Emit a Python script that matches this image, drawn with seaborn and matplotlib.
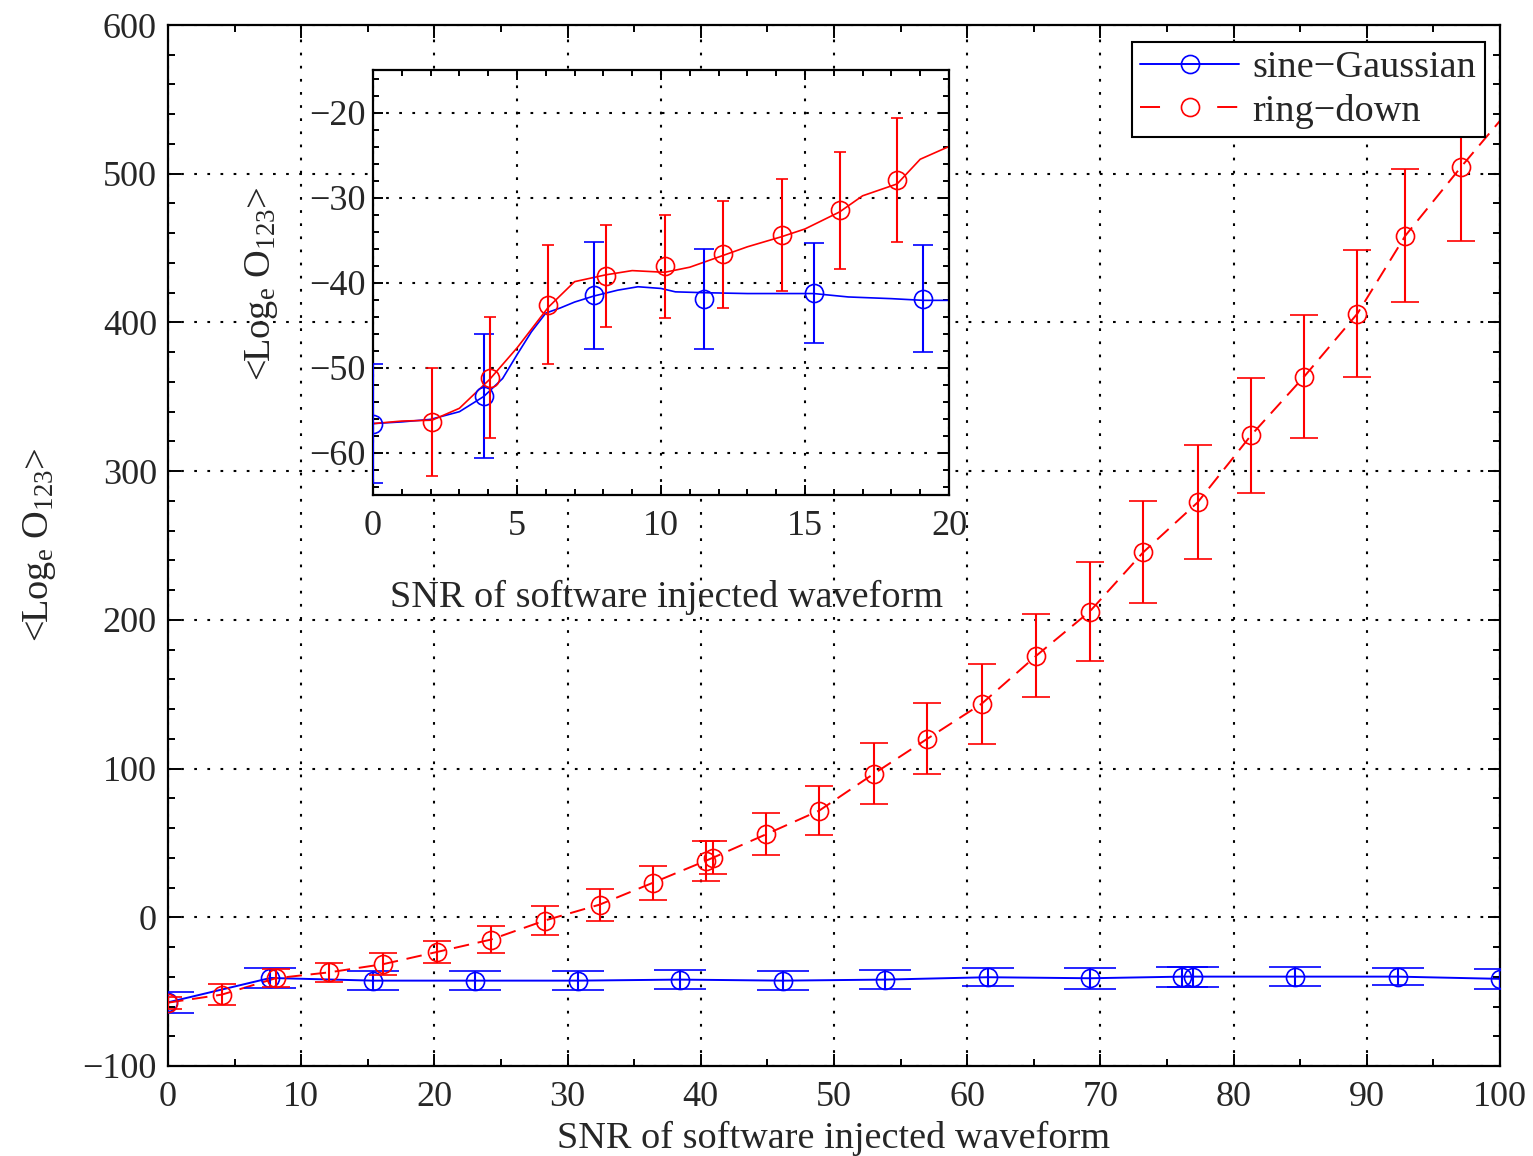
import matplotlib
matplotlib.use("Agg")
import matplotlib.pyplot as plt
from matplotlib.lines import Line2D
from matplotlib.ticker import MultipleLocator
import pandas as pd
import seaborn as sns

# ---- full SNR range: sine-Gaussian injections ----
sg_snr = [0, 7.69, 15.38, 23.08, 30.77, 38.46, 46.15, 53.85, 61.54, 69.23,
          76.15, 76.92, 84.62, 92.31, 100]
sg_mean = [-57.2, -40.8, -42.6, -42.6, -42.6, -41.9, -42.6, -41.9, -40.3, -41.0,
           -39.9, -39.9, -39.9, -39.9, -41.4]
sg_err = [6.9, 6.8, 6.2, 6.2, 6.2, 6.2, 6.5, 6.2, 6.2, 6.9,
          6.7, 6.7, 6.2, 5.6, 6.7]

# ---- full SNR range: ring-down injections ----
rd_snr = [0, 4.04, 8.08, 12.12, 16.16, 20.2, 24.24, 28.28, 32.4, 36.4,
          40.4, 40.9, 44.9, 48.9, 53.0, 57.0, 61.1, 65.2, 69.2, 73.2,
          77.3, 81.3, 85.3, 89.3, 92.9, 97.1]
rd_mean = [-57.4, -52.0, -41.0, -37.0, -31.5, -23.3, -15.0, -2.2, 8.5, 23.2,
           38.1, 40.0, 55.8, 71.8, 96.6, 120.0, 143.7, 176.0, 205.6, 245.3,
           279.0, 324.0, 363.6, 406.0, 458.4, 504.8]
rd_err = [4.0, 6.9, 6.2, 6.2, 7.3, 7.3, 9.0, 9.5, 10.8, 11.5,
          13.4, 11.2, 14.1, 16.8, 20.5, 23.9, 26.9, 28.2, 33.3, 34.3,
          38.3, 38.7, 41.4, 43.0, 44.9, 49.8]
# dashed ring-down trace continues to the edge of the axis
rd_line_snr = rd_snr + [100]
rd_line = rd_mean + [535.6]

# ---- low-SNR detail: sine-Gaussian ----
sg_in_snr = [0, 3.85, 7.66, 11.48, 15.3, 19.1]
sg_in_mean = [-56.6, -53.4, -41.5, -41.9, -41.2, -41.9]
sg_in_err = [7.0, 7.3, 6.3, 5.9, 5.9, 6.3]
sg_curve_snr = [0, 1, 2, 3, 3.85, 4.5, 5, 5.5, 6, 6.5, 7, 7.66, 8.5, 9.2,
                10, 10.5, 11.5, 13, 15.3, 16.5, 18, 19.1, 20]
sg_curve = [-56.6, -56.4, -56.1, -55.2, -53.4, -51.3, -48.5, -45.8, -43.6,
            -43.0, -42.3, -41.6, -40.9, -40.5, -40.7, -41.1, -41.2, -41.3,
            -41.3, -41.7, -41.9, -42.1, -42.1]

# ---- low-SNR detail: ring-down ----
rd_in_snr = [2.05, 4.05, 6.09, 8.08, 10.13, 12.17, 14.2, 16.2, 18.2]
rd_in_mean = [-56.4, -51.2, -42.6, -39.2, -38.1, -36.7, -34.4, -31.5, -27.9]
rd_in_err = [6.4, 7.1, 7.0, 6.0, 6.1, 6.3, 6.6, 6.9, 7.3]
rd_curve_snr = [0, 1, 2.05, 3, 4.05, 5, 6.09, 7, 8.08, 9, 10.13, 11, 12.17,
                13, 14.2, 15, 16.2, 17, 18.2, 19, 20]
rd_curve = [-56.6, -56.3, -56.2, -54.8, -51.4, -47.7, -42.9, -39.9, -39.1,
            -38.6, -38.8, -38.2, -36.8, -35.8, -34.6, -33.7, -31.7, -29.8,
            -28.4, -25.5, -24.0]

labels = ["sine\u2212Gaussian", "ring\u2212down"]
xlabel = "SNR of software injected waveform"
ylabel = r"<Log$_{\rm e}$ O$_{\rm 123}$>"

sns.set_theme(style="ticks")
plt.rcParams.update({
    "font.family": ["Liberation Serif", "DejaVu Serif"],
    "mathtext.fontset": "custom",
    "mathtext.rm": "Liberation Serif",
    "mathtext.it": "Liberation Serif:italic",
    "axes.unicode_minus": True,
})

BLUE = "#0000ff"
RED = "#ff0000"
TICK_FS = 26
LABEL_FS = 27.5
W, H = 1533, 1156
DASH = (0, (8, 4.5))


def style_axes(a, xmaj, xmin, ymaj, ymin, xpad, ypad, majlen, minlen):
    a.set_facecolor("white")
    a.xaxis.set_major_locator(MultipleLocator(xmaj))
    a.xaxis.set_minor_locator(MultipleLocator(xmin))
    a.yaxis.set_major_locator(MultipleLocator(ymaj))
    a.yaxis.set_minor_locator(MultipleLocator(ymin))
    a.tick_params(which="both", direction="in", top=True, right=True,
                  color="black", width=1.4)
    a.tick_params(which="major", length=majlen)
    a.tick_params(which="minor", length=minlen)
    a.tick_params(axis="x", which="major", pad=xpad, labelsize=TICK_FS)
    a.tick_params(axis="y", which="major", pad=ypad, labelsize=TICK_FS)
    a.grid(True, which="major", color="black", linestyle=(0, (1.3, 5)),
           linewidth=1.5)
    a.grid(False, which="minor")
    for s in a.spines.values():
        s.set_linewidth(1.6)
        s.set_color("black")
    a.set_xlabel("")
    a.set_ylabel("")


fig = plt.figure(figsize=(W / 100, H / 100), dpi=100)

# ---------------- main axes ----------------
ax = fig.add_axes([168 / W, 1 - 1066 / H, 1332 / W, 1041 / H])

sg_df = pd.DataFrame({"snr": sg_snr, "val": sg_mean})
rd_df = pd.DataFrame({"snr": rd_line_snr, "val": rd_line})
sns.lineplot(data=sg_df, x="snr", y="val", ax=ax, color=BLUE, lw=1.4,
             estimator=None, sort=False)
sns.lineplot(data=rd_df, x="snr", y="val", ax=ax, color=RED, lw=1.4,
             linestyle=DASH, estimator=None, sort=False)

ax.errorbar(sg_snr, sg_mean, yerr=sg_err, fmt="o", mfc="none", mec=BLUE,
            ms=13, mew=1.2, ecolor=BLUE, elinewidth=1.5, capsize=18.5,
            capthick=1.5, zorder=3)
ax.errorbar(rd_snr, rd_mean, yerr=rd_err, fmt="o", mfc="none", mec=RED,
            ms=13, mew=1.2, ecolor=RED, elinewidth=1.5, capsize=10,
            capthick=1.5, zorder=4)

ax.set_xlim(0, 100)
ax.set_ylim(-100, 600)
style_axes(ax, 10, 5, 100, 20, xpad=11, ypad=8, majlen=9, minlen=5)

handles = [
    Line2D([], [], color=BLUE, lw=1.4, marker="o", mfc="none", mec=BLUE,
           ms=13, mew=1.2),
    Line2D([], [], color=RED, lw=1.4, linestyle=(0, (10.3, 29.4)),
           marker="o", mfc="none", mec=RED, ms=13, mew=1.2),
]
leg = ax.legend(handles, labels, loc="upper right",
                bbox_to_anchor=(1485 / W, 1 - 42 / H),
                bbox_transform=fig.transFigure, borderaxespad=0,
                fontsize=LABEL_FS, handlelength=2.6, handletextpad=0.35,
                labelspacing=0.22, borderpad=0.22, fancybox=False,
                framealpha=1, edgecolor="black")
leg.get_frame().set_linewidth(1.5)

fig.text(834 / W, 1 - 1138 / H, xlabel, fontsize=LABEL_FS, ha="center",
         va="center")
fig.text(40 / W, 1 - 545 / H, ylabel, fontsize=LABEL_FS, rotation=90,
         ha="center", va="center")

# ---------------- low-SNR detail axes ----------------
axi = fig.add_axes([373 / W, 1 - 495 / H, 576 / W, 425 / H])
axi.set_zorder(5)

sgc = pd.DataFrame({"snr": sg_curve_snr, "val": sg_curve})
rdc = pd.DataFrame({"snr": rd_curve_snr, "val": rd_curve})
sns.lineplot(data=sgc, x="snr", y="val", ax=axi, color=BLUE, lw=1.2,
             estimator=None, sort=False)
sns.lineplot(data=rdc, x="snr", y="val", ax=axi, color=RED, lw=1.2,
             estimator=None, sort=False)

axi.errorbar(sg_in_snr, sg_in_mean, yerr=sg_in_err, fmt="o", mfc="none",
             mec=BLUE, ms=13, mew=1.2, ecolor=BLUE, elinewidth=1.5,
             capsize=7, capthick=1.5, zorder=3)
axi.errorbar(rd_in_snr, rd_in_mean, yerr=rd_in_err, fmt="o", mfc="none",
             mec=RED, ms=13, mew=1.2, ecolor=RED, elinewidth=1.5,
             capsize=4.6, capthick=1.5, zorder=4)

axi.set_xlim(0, 20)
axi.set_ylim(-65, -15)
style_axes(axi, 5, 1, 10, 2, xpad=11, ypad=5, majlen=7, minlen=4)

fig.text(667 / W, 1 - 597 / H, xlabel, fontsize=LABEL_FS, ha="center",
         va="center")
fig.text(262 / W, 1 - 284 / H, ylabel, fontsize=LABEL_FS, rotation=90,
         ha="center", va="center")

fig.savefig("out.png", dpi=100, facecolor="white")
